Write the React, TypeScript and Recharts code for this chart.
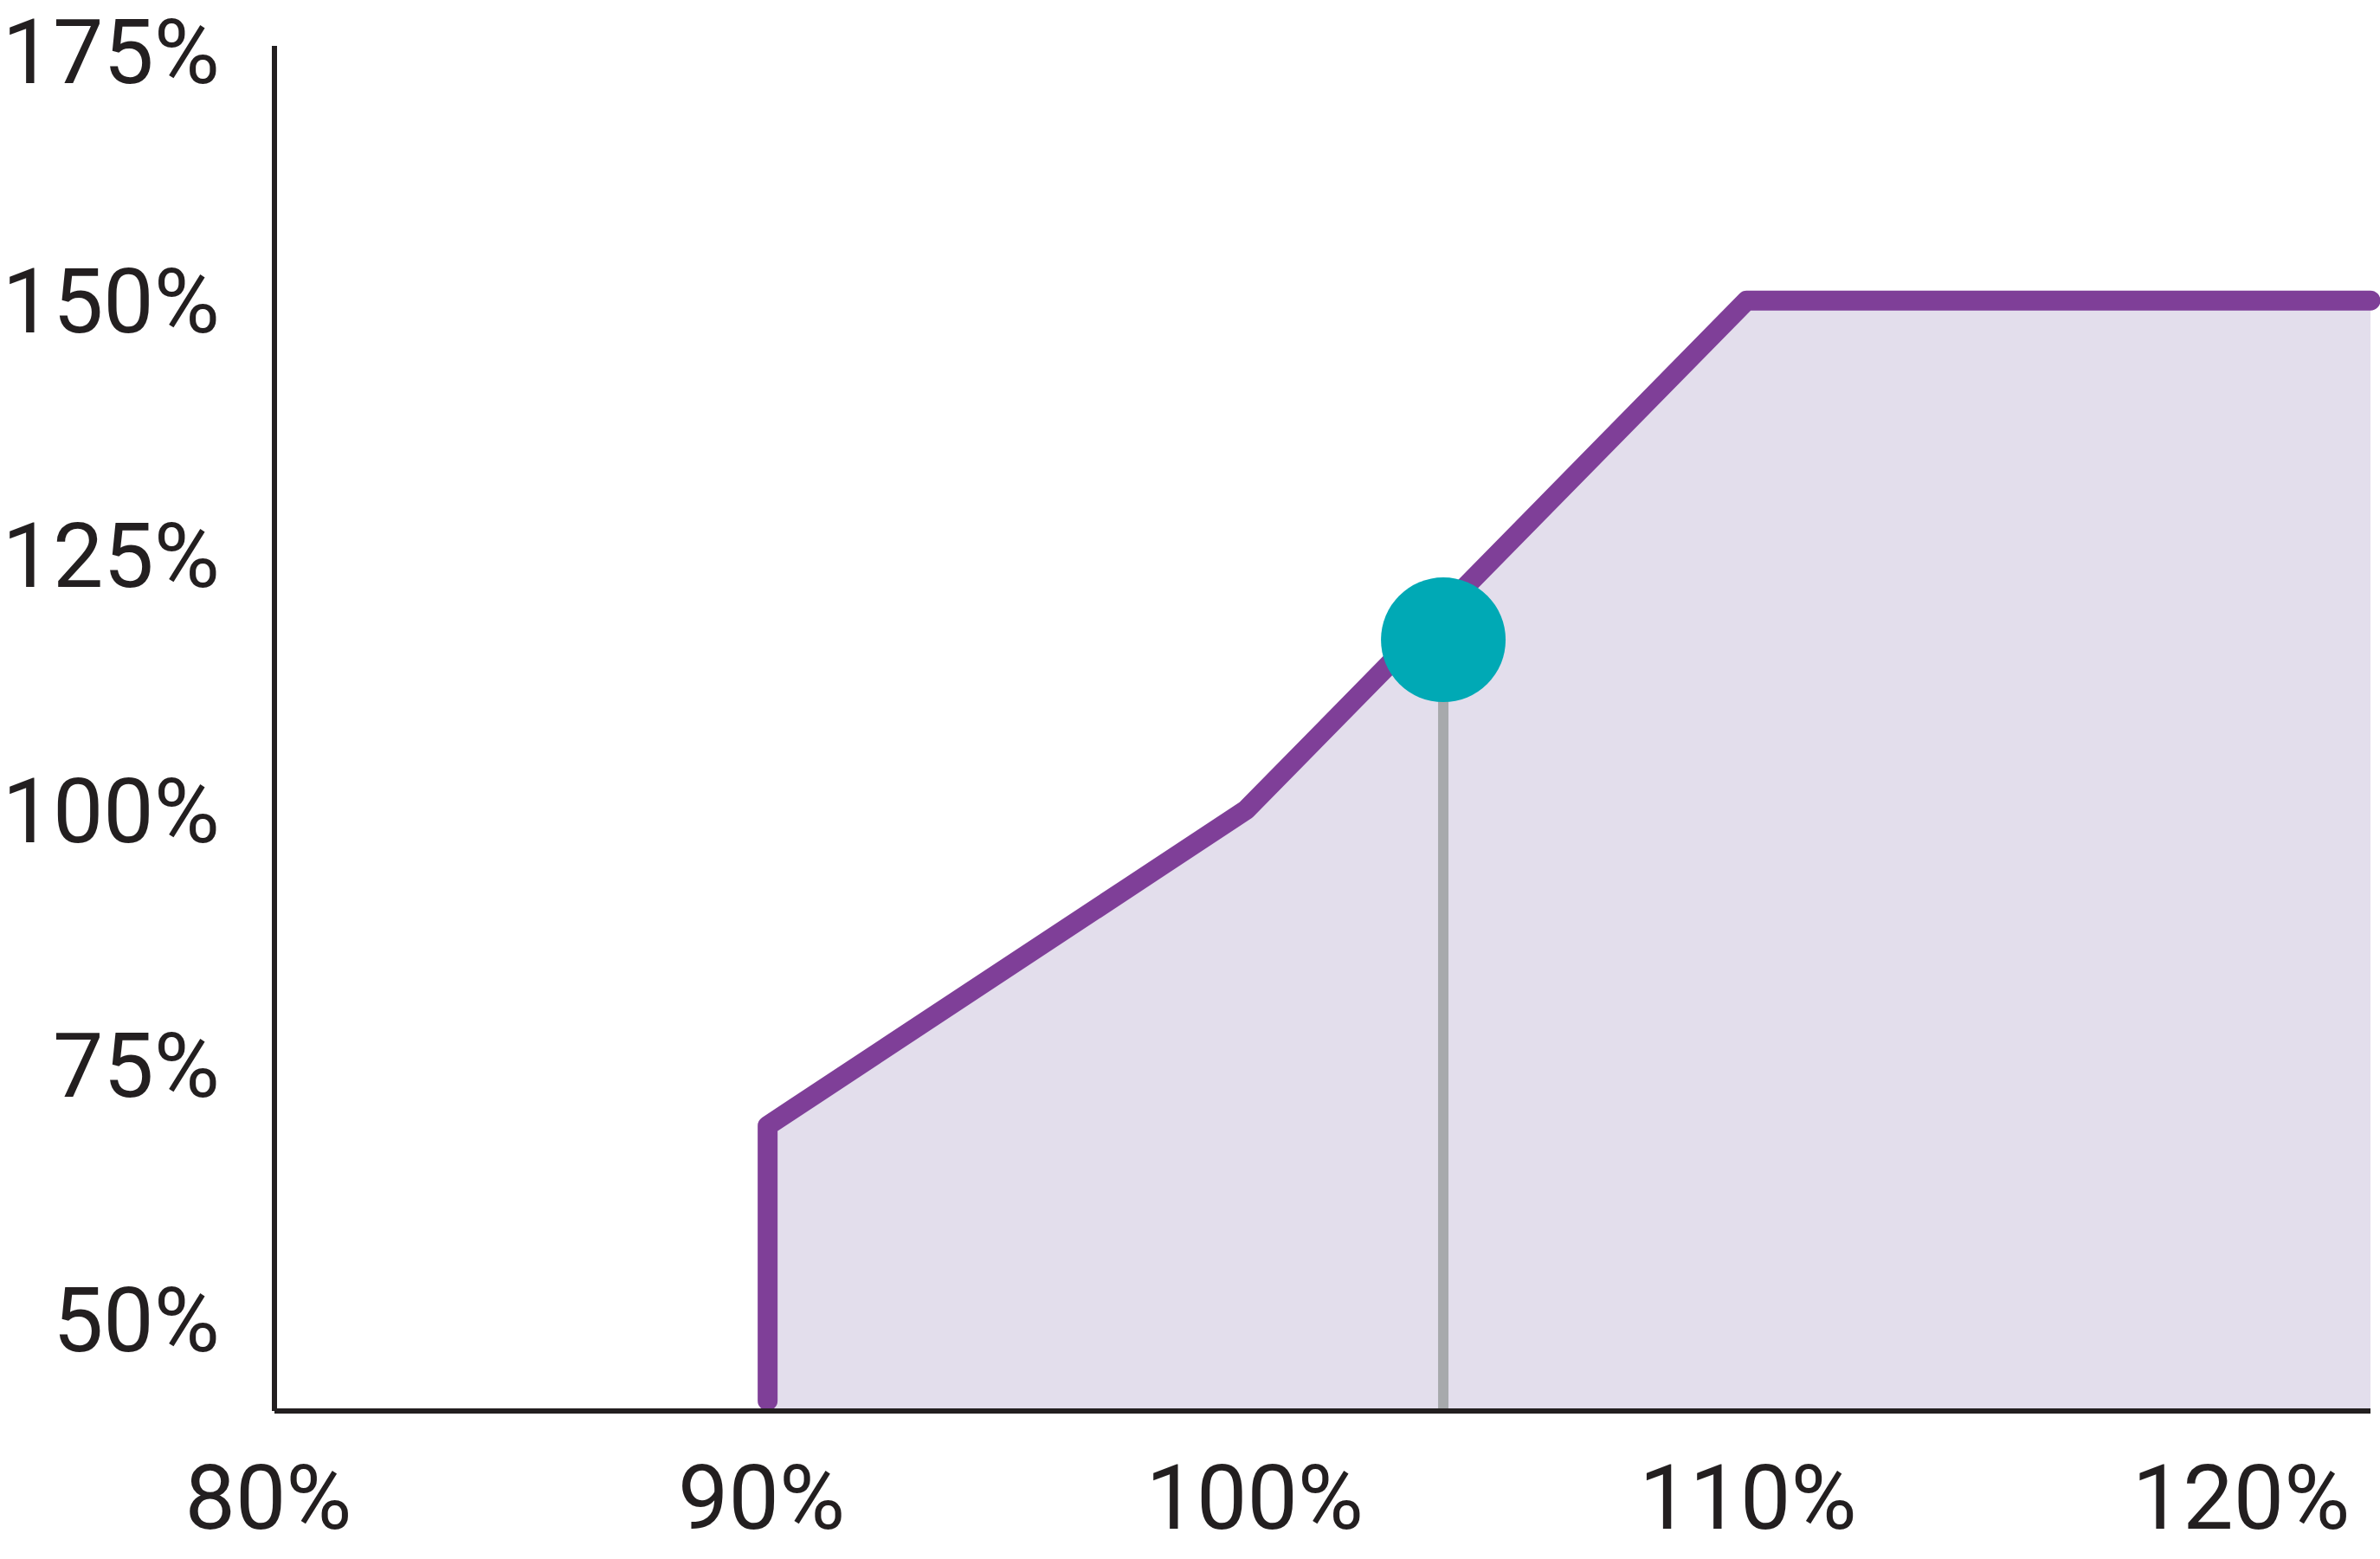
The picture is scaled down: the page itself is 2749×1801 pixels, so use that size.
import React from "react";
import { Area, ComposedChart, ReferenceLine, Scatter, XAxis, YAxis } from "recharts";

// step curve: x = level (%), y = payout (%)
const curveX = [90, 90, 99.7, 109.85, 122.5];
const curveY = [42, 69, 100, 150, 150];

const markerX = [103.7];
const markerY = [116.7];

const xTicks = [80, 90, 100, 110, 120];
const yTicks = [50, 75, 100, 125, 150, 175];

const curveData = curveX.map((x, i) => ({ x, y: curveY[i] }));
const markerData = markerX.map((x, i) => ({ x, y: markerY[i] }));

const tickStyle = { fill: "#231f20", fontSize: 104, fontFamily: "Roboto" };
const axisLine = { stroke: "#231f20", strokeWidth: 6 };

const Dot = (props: any) => <circle cx={props.cx} cy={props.cy} r={72} fill="#00a9b5" />;

export default function App() {
  return (
    <div style={{ position: "absolute", left: 0, top: 0, background: "#fff" }}>
      <ComposedChart
        width={2749}
        height={1801}
        data={curveData}
        margin={{ top: 53, right: 11, bottom: 0, left: 0 }}
      >
        <XAxis
          dataKey="x"
          type="number"
          domain={[80, 122.5]}
          ticks={xTicks}
          height={171}
          tickLine={false}
          tickSize={0}
          tickMargin={62}
          axisLine={axisLine}
          tick={{ ...tickStyle, dx: -7 }}
          tickFormatter={(v) => `${v}%`}
        />
        <YAxis
          type="number"
          domain={[41, 175]}
          ticks={yTicks}
          width={317}
          tickLine={false}
          tickSize={0}
          tickMargin={63}
          axisLine={axisLine}
          tick={tickStyle}
          tickFormatter={(v) => `${v}%`}
        />
        <Area
          type="linear"
          dataKey="y"
          baseValue={41}
          stroke="#7f3f98"
          strokeWidth={23}
          strokeLinecap="round"
          strokeLinejoin="round"
          fill="#e3deec"
          fillOpacity={1}
          isAnimationActive={false}
          dot={false}
          activeDot={false}
        />
        <ReferenceLine
          segment={[
            { x: markerX[0], y: 41 },
            { x: markerX[0], y: markerY[0] },
          ]}
          stroke="#a7a9ac"
          strokeWidth={12}
        />
        <Scatter data={markerData} dataKey="y" shape={Dot} isAnimationActive={false} />
      </ComposedChart>
    </div>
  );
}
